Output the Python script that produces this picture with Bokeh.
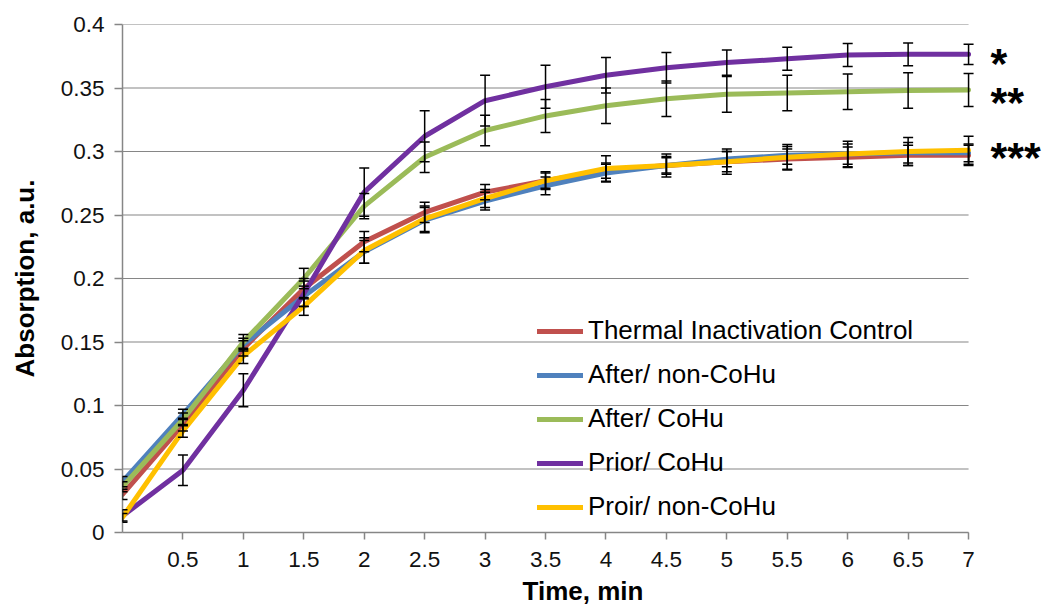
from bokeh.plotting import figure
from bokeh.models import (Range1d, FixedTicker, Whisker, TeeHead, ColumnDataSource,
                          Legend, LegendItem, Label)
from bokeh.embed import file_html
from bokeh.resources import INLINE

# ---------------- data ----------------
time = [0, 0.5, 1, 1.5, 2, 2.5, 3, 3.5, 4, 4.5, 5, 5.5, 6, 6.5, 7]

series_names = ["Thermal Inactivation Control", "After/ non-CoHu", "After/ CoHu",
                "Prior/ CoHu", "Proir/ non-CoHu"]
series_colors = ["#C0504D", "#4F81BD", "#9BBB59", "#7030A0", "#FFC000"]

thermal_control = [0.030, 0.085, 0.145, 0.192, 0.229, 0.252, 0.268, 0.277, 0.285, 0.289,
                   0.292, 0.294, 0.2955, 0.297, 0.297]
after_non_cohu = [0.040, 0.093, 0.148, 0.186, 0.221, 0.246, 0.261, 0.273, 0.283, 0.289,
                  0.294, 0.297, 0.298, 0.299, 0.299]
after_cohu = [0.036, 0.089, 0.150, 0.200, 0.257, 0.2955, 0.3165, 0.328, 0.336, 0.3415,
              0.345, 0.346, 0.347, 0.348, 0.3485]
prior_cohu = [0.013, 0.049, 0.112, 0.188, 0.268, 0.312, 0.340, 0.351, 0.360, 0.366,
              0.370, 0.373, 0.376, 0.3765, 0.3765]
prior_non_cohu = [0.012, 0.080, 0.139, 0.178, 0.222, 0.247, 0.263, 0.277, 0.2866, 0.289,
                  0.292, 0.2955, 0.298, 0.300, 0.301]

err_thermal = [0.004, 0.005, 0.006, 0.008, 0.008, 0.008, 0.006, 0.006, 0.006, 0.007,
               0.008, 0.008, 0.008, 0.008, 0.008]
err_after_non = [0.004, 0.004, 0.005, 0.008, 0.009, 0.010, 0.007, 0.007, 0.007, 0.006,
                 0.006, 0.007, 0.008, 0.008, 0.007]
err_after_cohu = [0.004, 0.005, 0.006, 0.008, 0.010, 0.012, 0.012, 0.013, 0.014, 0.014,
                  0.014, 0.014, 0.014, 0.014, 0.013]
err_prior_cohu = [0.005, 0.012, 0.013, 0.010, 0.019, 0.020, 0.020, 0.017, 0.014, 0.012,
                  0.010, 0.009, 0.009, 0.009, 0.008]
err_prior_non = [0.003, 0.005, 0.006, 0.007, 0.010, 0.010, 0.007, 0.007, 0.010, 0.009,
                 0.010, 0.010, 0.010, 0.011, 0.011]

series_values = [thermal_control, after_non_cohu, after_cohu, prior_cohu, prior_non_cohu]
series_errors = [err_thermal, err_after_non, err_after_cohu, err_prior_cohu, err_prior_non]

x_ticks = [0.5, 1, 1.5, 2, 2.5, 3, 3.5, 4, 4.5, 5, 5.5, 6, 6.5, 7]
x_tick_labels = ["0.5", "1", "1.5", "2", "2.5", "3", "3.5", "4", "4.5", "5", "5.5", "6",
                 "6.5", "7"]
y_ticks = [0, 0.05, 0.1, 0.15, 0.2, 0.25, 0.3, 0.35, 0.4]
y_tick_labels = ["0", "0.05", "0.1", "0.15", "0.2", "0.25", "0.3", "0.35", "0.4"]

star_texts = ["*", "**", "***"]
star_y = [0.374, 0.343, 0.2995]

# ---------------- figure ----------------
FONT = "Liberation Sans"
GRAY = "#868686"
X_MIN, X_MAX = 0, 7

p = figure(width=1043, height=608, output_backend="svg", toolbar_location=None,
           x_range=Range1d(X_MIN, 7.62), y_range=Range1d(0, 0.4),
           min_border_left=122, min_border_right=0, min_border_top=24,
           min_border_bottom=76)
p.outline_line_color = None
p.background_fill_color = "white"
p.border_fill_color = "white"

p.xgrid.visible = False
p.ygrid.visible = False
# horizontal gridlines, limited to the data extent of the time axis
p.segment(x0=[X_MIN] * len(y_ticks), x1=[X_MAX] * len(y_ticks), y0=y_ticks, y1=y_ticks,
          line_color=GRAY, line_width=1.2)

p.xaxis.ticker = FixedTicker(ticks=x_ticks)
p.xaxis.major_label_overrides = {t: s for t, s in zip(x_ticks, x_tick_labels)}
p.xaxis.bounds = (X_MIN, X_MAX)
p.yaxis.ticker = FixedTicker(ticks=y_ticks)
p.yaxis.major_label_overrides = {t: s for t, s in zip(y_ticks, y_tick_labels)}

for ax in (p.xaxis, p.yaxis):
    ax.axis_line_color = GRAY
    ax.axis_line_width = 1.5
    ax.major_tick_line_color = GRAY
    ax.major_tick_line_width = 1.5
    ax.major_tick_in = 0
    ax.minor_tick_line_color = None
    ax.major_label_text_font = FONT
    ax.major_label_text_font_size = "22.5px"
    ax.major_label_text_color = "#111111"
    ax.axis_label_text_font = FONT
    ax.axis_label_text_font_size = "26px"
    ax.axis_label_text_font_style = "bold"
    ax.axis_label_text_color = "#000000"

p.xaxis.major_tick_out = 7
p.xaxis.major_label_standoff = 12
p.xaxis.axis_label = "Time, min"
p.xaxis.axis_label_standoff = 6
p.yaxis.major_tick_out = 8
p.yaxis.major_label_standoff = 10
p.yaxis.axis_label = "Absorption, a.u."
p.yaxis.axis_label_standoff = 18

items = []
for name, color, vals, errs in zip(series_names, series_colors, series_values, series_errors):
    src = ColumnDataSource(dict(
        x=time, y=vals,
        lo=[v - e for v, e in zip(vals, errs)],
        hi=[v + e for v, e in zip(vals, errs)]))
    r = p.line("x", "y", source=src, line_color=color, line_width=5, line_join="round",
               line_cap="round")
    items.append(LegendItem(label=name, renderers=[r]))
    w = Whisker(source=src, base="x", lower="lo", upper="hi", level="overlay",
                line_color="black", line_width=1.5,
                upper_head=TeeHead(size=10, line_color="black", line_width=1.5),
                lower_head=TeeHead(size=10, line_color="black", line_width=1.5))
    p.add_layout(w)

legend = Legend(items=items, location=(415, 10), padding=0, margin=0,
                spacing=13, label_height=30, glyph_height=30, glyph_width=46,
                label_standoff=5, background_fill_alpha=0, border_line_color=None,
                label_text_font=FONT, label_text_font_size="26px",
                label_text_color="#000000")
p.add_layout(legend, "center")

for txt, yv in zip(star_texts, star_y):
    p.add_layout(Label(x=X_MAX, y=yv, x_offset=22, y_offset=-5, text=txt,
                       text_font=FONT, text_font_size="43px", text_font_style="bold",
                       text_align="left", text_baseline="alphabetic",
                       text_color="#000000"))

open("out.html", "w").write(file_html(p, INLINE))
